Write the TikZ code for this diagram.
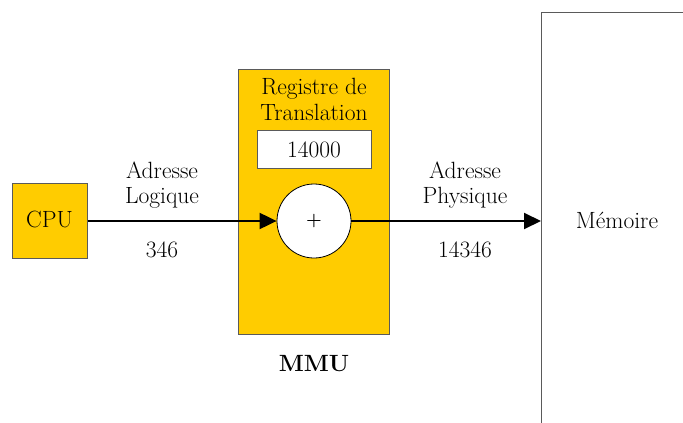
\documentclass[tikz,border=0pt]{standalone}
\usepackage{fontspec}
\usetikzlibrary{arrows.meta}
\definecolor{mmuyellow}{HTML}{FFCC00}
\definecolor{edgegray}{HTML}{5A5A5A}
\tikzset{
  txt/.style={anchor=base, inner sep=0pt, font=\fontsize{23.5}{28}\selectfont},
  unitbox/.style={draw=edgegray, line width=1pt, fill=mmuyellow, inner sep=0pt},
  regbox/.style={draw=edgegray, line width=1pt, fill=white, inner sep=0pt},
  flow/.style={line width=2pt, -{Triangle[length=17pt, width=16pt]}},
}
\begin{document}
\begin{tikzpicture}[x=1pt, y=-1pt]
  \useasboundingbox (0,0) rectangle (683,423);

  % memory block, running off the right and bottom edges
  \node[draw=edgegray, line width=1.2pt, anchor=north west, minimum width=170pt,
        minimum height=440pt, inner sep=0pt] (mem) at (541,12) {};
  \node[txt] (memlbl) at (617,228) {Mémoire};

  % processor
  \node[unitbox, minimum width=75pt, minimum height=75pt] (cpu) at (49.5,221) {};
  \node[txt] (cpulbl) at (49.5,227.5) {CPU};

  % memory management unit
  \node[unitbox, minimum width=151pt, minimum height=265pt] (mmu) at (313.5,201.5) {};
  \node[txt] (reg1) at (314,94) {Registre de};
  \node[txt] (reg2) at (314,120) {Translation};
  \node[regbox, minimum width=114pt, minimum height=38pt] (reg) at (314,149) {};
  \node[txt] (regval) at (314,157.5) {14000};
  \node[draw=black, line width=0.8pt, fill=white, circle, minimum size=74pt,
        inner sep=0pt, font=\fontsize{18}{20}\selectfont\bfseries] (add) at (314,221) {+};
  \node[txt, font=\fontsize{23.5}{28}\selectfont\bfseries] (mmulbl) at (314,371) {MMU};

  % logical address
  \draw[flow] (cpu.east) -- (add.west);
  \node[txt] (la1) at (162,178) {Adresse};
  \node[txt] (la2) at (162,203) {Logique};
  \node[txt] (laval) at (162,257) {346};

  % physical address
  \draw[flow] (add.east) -- (add.east -| mem.west);
  \node[txt] (pa1) at (465,178) {Adresse};
  \node[txt] (pa2) at (465,203) {Physique};
  \node[txt] (paval) at (465,257) {14346};
\end{tikzpicture}
\end{document}
